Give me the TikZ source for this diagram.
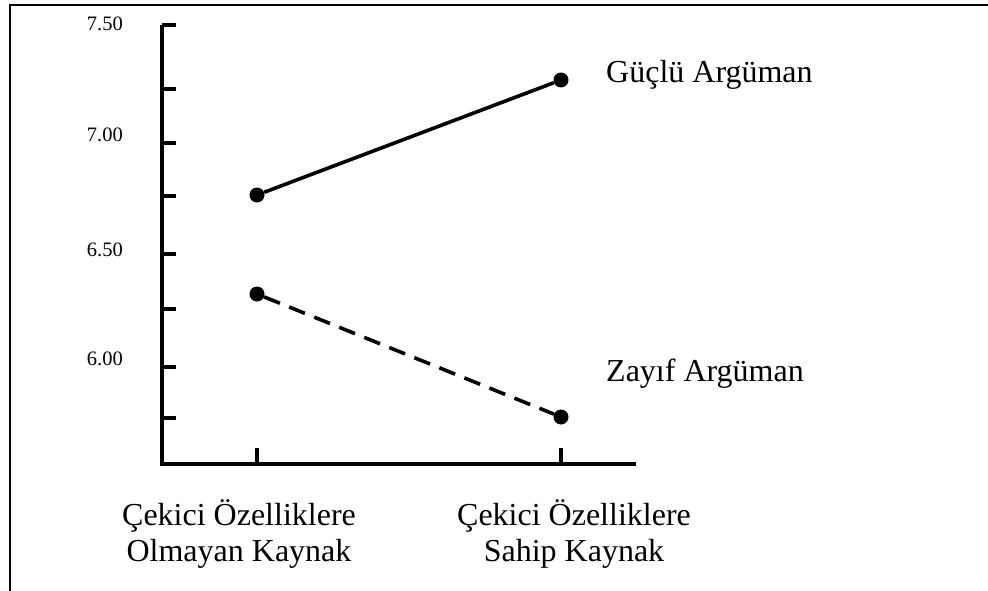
\documentclass[tikz,border=0pt]{standalone}
\usepackage{fontspec}
\setmainfont{Liberation Serif}
\begin{document}
\begin{tikzpicture}[x=1pt,y=-1pt,
  frameline/.style={line width=2.5pt},
  axisline/.style={line width=4pt},
  tickline/.style={line width=3.5pt},
  dot/.style={circle,fill=black,inner sep=0pt,minimum size=15pt},
  strongline/.style={line width=3.6pt},
  weakline/.style={line width=3.6pt,dash pattern=on 17pt off 10pt},
  ylabel/.style={anchor=base east,inner sep=0pt,font=\fontsize{20.5}{24}\selectfont},
  grouplabel/.style={anchor=base west,inner sep=0pt,font=\fontsize{32}{38}\selectfont},
  xlabel/.style={anchor=north,inner sep=0pt,align=center,font=\fontsize{32}{36}\selectfont}]
\useasboundingbox (0,0) rectangle (988,591);

% outer frame (top and left edges)
\draw[frameline] (10,591) -- (10,5) -- (988,5);

% axes
\coordinate (ytop) at (162,25);
\coordinate (origin) at (162,464);
\coordinate (xend) at (636,464);
\draw[axisline,line join=miter] (ytop) -- (origin) -- (xend);
\draw[tickline] (ytop) -- ++(14,0);

% y ticks
\foreach \y in {89,143,196,254,309,367,418}
  \draw[tickline] (162,\y) -- (176,\y);

% y tick labels
\node[ylabel] (l750) at (123,31) {7.50};
\node[ylabel] (l700) at (123,142) {7.00};
\node[ylabel] (l650) at (123,256) {6.50};
\node[ylabel] (l600) at (123,365) {6.00};

% x ticks
\coordinate (xa) at (257,464);
\coordinate (xb) at (561,464);
\draw[tickline] (xa) -- ++(0,-16);
\draw[tickline] (xb) -- ++(0,-16);

% x labels
\node[xlabel] (ca) at (239,499) {Çekici Özelliklere\\Olmayan Kaynak};
\node[xlabel] (cb) at (574,499) {Çekici Özelliklere\\Sahip Kaynak};

% data points
\node[dot] (s1) at (257,195) {};
\node[dot] (s2) at (561,80) {};
\node[dot] (w1) at (257,294) {};
\node[dot] (w2) at (561,417) {};

\draw[strongline] (s1) -- (s2);
\draw[weakline] (w1) -- (w2);

% series labels
\node[grouplabel] (gs) at (606,83) {Güçlü Argüman};
\node[grouplabel] (gw) at (606,381) {Zayıf Argüman};
\end{tikzpicture}
\end{document}
